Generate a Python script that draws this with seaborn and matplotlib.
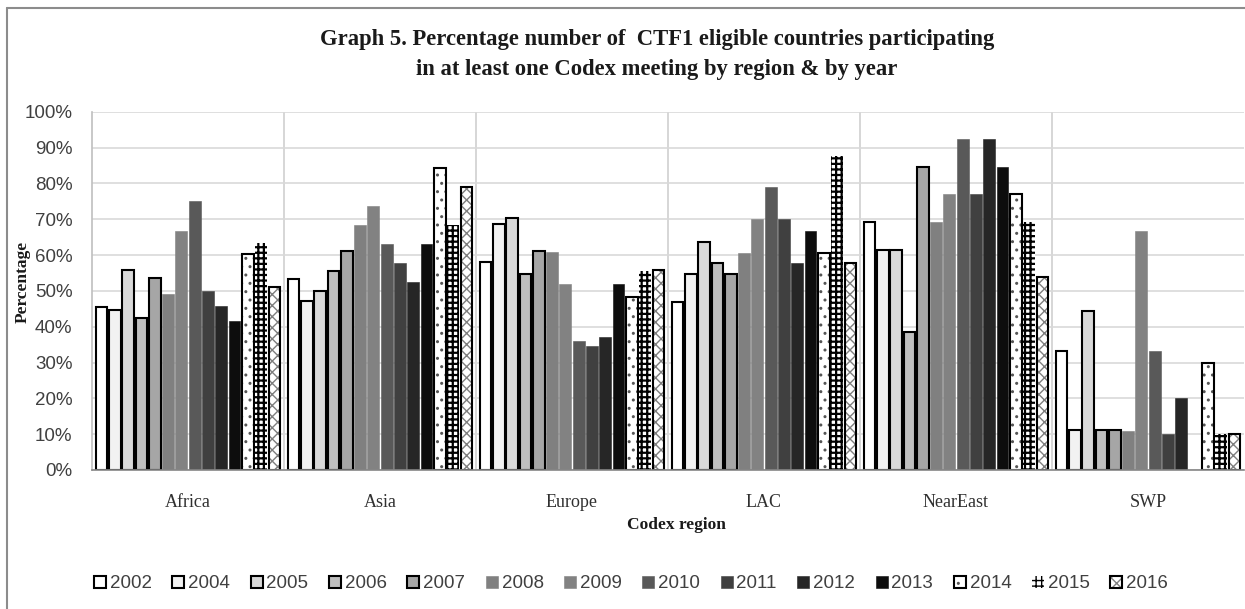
import matplotlib
matplotlib.use("Agg")
import matplotlib.pyplot as plt
import seaborn as sns
import pandas as pd
from matplotlib.colors import to_rgba
from matplotlib.lines import Line2D

regions = ["Africa", "Asia", "Europe", "LAC", "NearEast", "SWP"]
years = ["2002", "2004", "2005", "2006", "2007", "2008", "2009",
         "2010", "2011", "2012", "2013", "2014", "2015", "2016"]

africa   = [45.5, 44.7, 55.7, 42.3, 53.5, 49.0, 66.7, 75.0, 50.0, 45.8, 41.7, 60.4, 63.3, 51.1]
asia     = [53.2, 47.2, 50.0, 55.6, 61.1, 68.4, 73.7, 63.2, 57.9, 52.6, 63.2, 84.2, 68.4, 78.9]
europe   = [58.0, 68.6, 70.4, 54.6, 61.1, 60.9, 51.9, 35.9, 34.5, 37.0, 51.9, 48.3, 55.6, 55.7]
lac      = [47.0, 54.6, 63.6, 57.7, 54.6, 60.7, 70.0, 79.0, 70.0, 57.7, 66.7, 60.7, 87.6, 57.7]
neareast = [69.2, 61.5, 61.5, 38.5, 84.6, 69.2, 76.9, 92.3, 76.9, 92.3, 84.6, 76.9, 69.2, 53.8]
swp      = [33.3, 11.1, 44.4, 11.1, 11.1, 11.0, 66.7, 33.3, 10.0, 20.0, 0.0, 30.0, 10.0, 10.0]

yticks = [0, 10, 20, 30, 40, 50, 60, 70, 80, 90, 100]
ytick_labels = [f"{t}%" for t in yticks]

series = {"Africa": africa, "Asia": asia, "Europe": europe, "LAC": lac,
          "NearEast": neareast, "SWP": swp}
rows = []
for r in regions:
    for y, v in zip(years, series[r]):
        rows.append({"region": r, "year": y, "value": v})
df = pd.DataFrame(rows)

fills = ["#ffffff", "#f2f2f2", "#d9d9d9", "#bfbfbf", "#a6a6a6", "#808080", "#828282",
         "#595959", "#404040", "#262626", "#0d0d0d", "#ffffff", "#ffffff", "#ffffff"]

sns.set_theme(style="white")
plt.rcParams["hatch.linewidth"] = 1.0

W, H = 1245, 609
fig = plt.figure(figsize=(W / 100, H / 100), dpi=100)
ax = fig.add_axes([92 / W, 1 - 470 / H, (1244 - 92) / W, (470 - 111.7) / H])

sns.barplot(data=df, x="region", y="value", hue="year", order=regions,
            hue_order=years, palette=fills, width=0.97, gap=0.12,
            saturation=1, ax=ax, legend=False, errorbar=None)

outlined = {0, 1, 2, 3, 4, 11, 13}
for i, cont in enumerate(ax.containers):
    for p in cont.patches:
        p.set_facecolor(fills[i])
        if i in outlined:
            p.set_edgecolor("black")
            p.set_linewidth(1.5)
        else:
            p.set_edgecolor(fills[i])
            p.set_linewidth(0.4)
        if i == 11:
            p.set_hatch("..")
            p._hatch_color = to_rgba("#555555")
        elif i == 12:
            p.set_edgecolor("black")
            p.set_linewidth(0)
            p.set_hatch("+++")
            p._hatch_color = to_rgba("black")
            if hasattr(p, "set_hatch_linewidth"):
                p.set_hatch_linewidth(1.6)
        elif i == 13:
            p.set_hatch("xxx")
            p._hatch_color = to_rgba("#7f7f7f")
        p.stale = True

ax.set_ylim(0, 100)
ax.set_xlim(-0.5, len(regions) - 0.5)
ax.set_yticks(yticks)
ax.set_yticklabels(ytick_labels, fontsize=13.5, family="Liberation Sans", color="#404040")
ax.set_xticks(range(len(regions)))
ax.set_xticklabels(regions, fontsize=13, family="Liberation Serif", color="#303030")
ax.tick_params(axis="x", length=0, pad=17)
ax.tick_params(axis="y", length=0, pad=14)
ax.set_xlabel("")
ax.set_ylabel("")

ax.set_axisbelow(True)
ax.yaxis.grid(True, color="#d9d9d9", linewidth=1.2)
for b in [0.5, 1.5, 2.5, 3.5, 4.5]:
    ax.axvline(b, color="#d0d0d0", linewidth=1.2, zorder=0)
for s in ["top", "right"]:
    ax.spines[s].set_visible(False)
ax.spines["left"].set_color("#bfbfbf")
ax.spines["bottom"].set_color("#868686")
ax.spines["left"].set_linewidth(1.2)
ax.spines["bottom"].set_linewidth(1.2)

fig.legend(list(ax.containers), years, loc="center", bbox_to_anchor=(631 / W, 1 - 584 / H),
           ncol=14, frameon=False, handlelength=0.64, handleheight=0.64,
           handletextpad=0.2, columnspacing=1.1,
           prop={"family": "Liberation Sans", "size": 13.5}, labelcolor="#404040")

fig.text(657 / W, 1 - 40 / H,
         "Graph 5. Percentage number of  CTF1 eligible countries participating",
         ha="center", va="center", fontsize=16.3, fontweight="bold",
         family="Liberation Serif", color="#1a1a1a")
fig.text(657 / W, 1 - 69 / H,
         "in at least one Codex meeting by region & by year",
         ha="center", va="center", fontsize=16.3, fontweight="bold",
         family="Liberation Serif", color="#1a1a1a")
fig.text(676 / W, 1 - 525 / H, "Codex region", ha="center", va="center",
         fontsize=12.5, fontweight="bold", family="Liberation Serif", color="#1a1a1a")
fig.text(23 / W, 1 - 282 / H, "Percentage", ha="center", va="center", rotation=90,
         fontsize=12.5, fontweight="bold", family="Liberation Serif", color="#1a1a1a")

fig.add_artist(Line2D([7 / W, 7 / W], [0, 1 - 8 / H], transform=fig.transFigure,
                      color="#8c8c8c", linewidth=1.5))
fig.add_artist(Line2D([7 / W, 1], [1 - 8 / H, 1 - 8 / H], transform=fig.transFigure,
                      color="#8c8c8c", linewidth=1.5))

fig.savefig("out.png", dpi=100, facecolor="white")
